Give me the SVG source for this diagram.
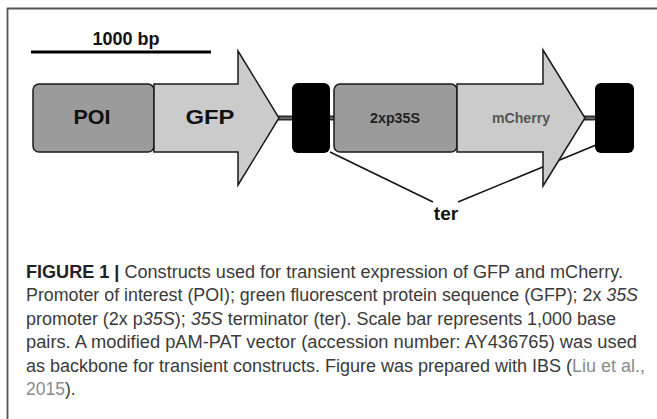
<svg xmlns="http://www.w3.org/2000/svg" width="657" height="419" viewBox="0 0 657 419">
<style>
.blk{fill:#000;}
.prom{fill:#9b9b9b;stroke:#1a1a1a;stroke-width:1.5;}
.cds{fill:#cbcbcb;stroke:#1a1a1a;stroke-width:1.5;stroke-linejoin:miter;}
.lab{font-family:"Liberation Sans",Arial,sans-serif;font-weight:bold;text-anchor:middle;}
.cap{font-family:"Liberation Sans",Arial,sans-serif;font-size:17.5px;fill:#3a3a3a;}
.link{fill:#8a8a8a;}
.lead{stroke:#111;stroke-width:1.5;fill:none;}
.bb{stroke:#2a2a2a;stroke-width:5;}
.bbi{stroke:#8a8a8a;stroke-width:1.2;}
</style>
<rect width="657" height="419" fill="#fff"/>
<path d="M7.5,419 V8.5 H657" fill="none" stroke="#555" stroke-width="1.8"/>
<g id="scale">
<line x1="31" y1="52" x2="211" y2="52" stroke="#000" stroke-width="3"/>
<text class="lab" x="126" y="45" font-size="18" fill="#111">1000 bp</text>
</g>
<g id="connectors">
<line class="bb" x1="278" y1="118" x2="293" y2="118"/>
<line class="bbi" x1="278" y1="118" x2="293" y2="118"/>
<line class="bb" x1="329" y1="118" x2="335" y2="118"/>
<line class="bbi" x1="329" y1="118" x2="335" y2="118"/>
<line class="bb" x1="584" y1="118" x2="596" y2="118"/>
<line class="bbi" x1="584" y1="118" x2="596" y2="118"/>
<line class="lead" x1="330" y1="152" x2="433" y2="202"/>
<line class="lead" x1="458" y1="202" x2="596" y2="145"/>
</g>
<g id="poi">
<rect class="prom" x="33" y="84" width="121" height="68" rx="6"/>
<text class="lab" x="92" y="124" font-size="21" fill="#111" textLength="37" lengthAdjust="spacingAndGlyphs">POI</text>
</g>
<g id="gfp">
<polygon class="cds" points="154,84 238,84 238,51 279,118 238,185 238,152 154,152"/>
<text class="lab" x="210" y="124" font-size="21" fill="#111" textLength="49" lengthAdjust="spacingAndGlyphs">GFP</text>
</g>
<g id="ter1">
<rect class="blk" x="292" y="83" width="38" height="70" rx="6"/>
</g>
<g id="p35s">
<rect class="prom" x="334" y="84" width="123" height="68" rx="6"/>
<text class="lab" x="395" y="123" font-size="15" fill="#222" textLength="50" lengthAdjust="spacingAndGlyphs">2xp35S</text>
</g>
<g id="mcherry">
<polygon class="cds" points="457,84 543,84 543,50 585,118 543,186 543,152 457,152"/>
<text class="lab" x="521" y="123" font-size="14.5" fill="#555" textLength="58" lengthAdjust="spacingAndGlyphs">mCherry</text>
</g>
<g id="ter2">
<rect class="blk" x="595" y="83" width="39" height="70" rx="6"/>
</g>
<g id="terlabel">
<text class="lab" x="446" y="220" font-size="19" fill="#111">ter</text>
</g>
<g id="caption">
<text class="cap" x="26" y="277.5" textLength="597" lengthAdjust="spacingAndGlyphs"><tspan font-weight="bold" fill="#222">FIGURE 1 |</tspan> Constructs used for transient expression of GFP and mCherry.</text>
<text class="cap" x="26" y="301" textLength="612" lengthAdjust="spacingAndGlyphs">Promoter of interest (POI); green fluorescent protein sequence (GFP); 2x <tspan font-style="italic">35S</tspan></text>
<text class="cap" x="26" y="324.5" textLength="590" lengthAdjust="spacingAndGlyphs">promoter (2x p<tspan font-style="italic">35S</tspan>); <tspan font-style="italic">35S</tspan> terminator (ter). Scale bar represents 1,000 base</text>
<text class="cap" x="26" y="348" textLength="611" lengthAdjust="spacingAndGlyphs">pairs. A modified pAM-PAT vector (accession number: AY436765) was used</text>
<text class="cap" x="26" y="371.5" textLength="619" lengthAdjust="spacingAndGlyphs">as backbone for transient constructs. Figure was prepared with IBS (<tspan class="link">Liu et al.,</tspan></text>
<text class="cap" x="26" y="395"><tspan class="link">2015</tspan>).</text>
</g>
</svg>
